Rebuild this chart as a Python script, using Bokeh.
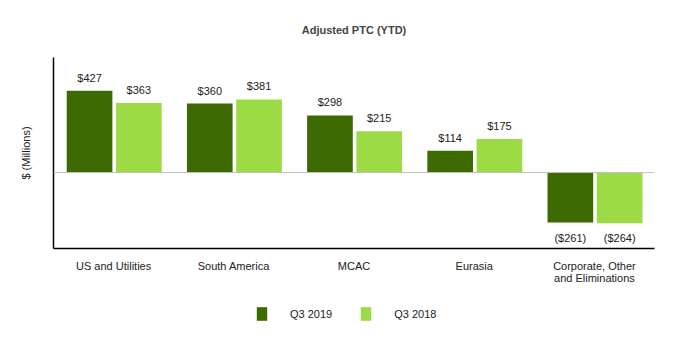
from bokeh.plotting import figure
from bokeh.layouts import column
from bokeh.models import (ColumnDataSource, Range1d, FixedTicker, Legend, LegendItem, Span)
from bokeh.embed import file_html
from bokeh.resources import INLINE

categories = ["US and Utilities", "South America", "MCAC", "Eurasia", "Corporate, Other\nand Eliminations"]
q3_2019 = [427, 360, 298, 114, -261]
q3_2018 = [363, 381, 215, 175, -264]
series_names = ["Q3 2019", "Q3 2018"]

def fmt(v):
    return f"${v}" if v >= 0 else f"(${-v})"

FONT = "Liberation Sans"
DARK = "#3d6a02"
LIGHT = "#9cdb46"

p = figure(width=682, height=300, output_backend="svg", toolbar_location=None,
           x_range=Range1d(0, 5), y_range=Range1d(-396, 600),
           min_border_left=53, min_border_right=28, min_border_top=57, min_border_bottom=52)

p.title.text = "Adjusted PTC (YTD)"
p.title.align = "center"
p.title.text_font = FONT
p.title.text_font_size = "11px"
p.title.text_font_style = "bold"
p.title.offset = -12
p.title.standoff = 43

p.xgrid.visible = False
p.ygrid.visible = False
p.outline_line_color = None

xs = [i + 0.5 for i in range(len(categories))]
src = ColumnDataSource(dict(
    x19=[x - 0.2 for x in xs], x18=[x + 0.21 for x in xs],
    v19=q3_2019, v18=q3_2018,
    l19=[fmt(v) for v in q3_2019], l18=[fmt(v) for v in q3_2018],
    o19=[-13 if v >= 0 else 15 for v in q3_2019],
    o18=[-13 if v >= 0 else 15 for v in q3_2018],
))

zero = Span(location=0, dimension="width", line_color="#c0c0c0", line_width=1)
p.add_layout(zero)

r19 = p.vbar(x="x19", top="v19", bottom=0, width=0.38, source=src, fill_color=DARK, line_color=None)
r18 = p.vbar(x="x18", top="v18", bottom=0, width=0.38, source=src, fill_color=LIGHT, line_color=None)

p.text(x="x19", y="v19", text="l19", y_offset="o19", source=src, text_align="center",
       text_baseline="alphabetic", text_font=dict(value=FONT), text_font_size="11px", text_color="#222222")
p.text(x="x18", y="v18", text="l18", y_offset="o18", source=src, text_align="center",
       text_baseline="alphabetic", text_font=dict(value=FONT), text_font_size="11px", text_color="#222222")

xa = p.xaxis[0]
xa.ticker = FixedTicker(ticks=xs)
xa.major_label_overrides = {x: c for x, c in zip(xs, categories)}
xa.major_tick_line_color = None
xa.minor_tick_line_color = None
xa.axis_line_color = "black"
xa.axis_line_width = 1.5
xa.major_label_text_font = FONT
xa.major_label_text_font_size = "11px"
xa.major_label_text_color = "#222222"
xa.major_label_text_line_height = 1.0
xa.major_label_standoff = 5

ya = p.yaxis[0]
ya.ticker = FixedTicker(ticks=[])
ya.major_tick_line_color = None
ya.minor_tick_line_color = None
ya.axis_line_color = "black"
ya.axis_line_width = 1.5
ya.axis_label = "$ (Millions)"
ya.axis_label_text_font = FONT
ya.axis_label_text_font_size = "11px"
ya.axis_label_text_font_style = "normal"
ya.axis_label_text_color = "#222222"
ya.axis_label_standoff = 22

# Legend in its own small figure below the chart
p2 = figure(width=682, height=53, output_backend="svg", toolbar_location=None,
            x_range=Range1d(0, 1), y_range=Range1d(0, 1),
            min_border_left=0, min_border_right=0, min_border_top=0, min_border_bottom=0)
p2.axis.visible = False
p2.xgrid.visible = False
p2.ygrid.visible = False
p2.outline_line_color = None
lr19 = p2.vbar(x=[5], top=[5], bottom=[4], width=0.1, fill_color=DARK, line_color=None)
lr18 = p2.vbar(x=[5], top=[5], bottom=[4], width=0.1, fill_color=LIGHT, line_color=None)

legend = Legend(items=[LegendItem(label=series_names[0], renderers=[lr19]),
                       LegendItem(label=series_names[1], renderers=[lr18])],
                orientation="horizontal", location=(202, 31),
                glyph_width=13, glyph_height=17, label_standoff=22, spacing=27,
                label_text_font=FONT, label_text_font_size="11px", label_text_color="#222222",
                border_line_alpha=0, background_fill_alpha=0, margin=0, padding=0)
p2.add_layout(legend, "center")

layout = column(p, p2, spacing=0)
open("out.html", "w").write(file_html(layout, INLINE))
